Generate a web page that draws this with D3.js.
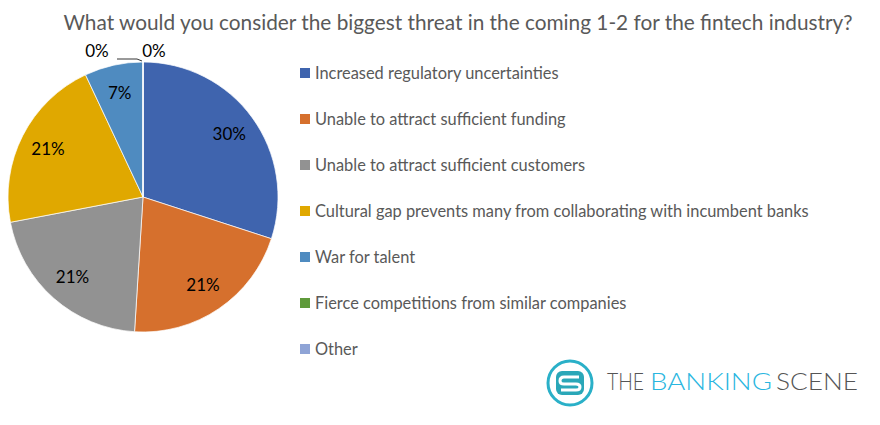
<!DOCTYPE html>
<html>
<head>
<meta charset="utf-8">
<script src="https://cdn.jsdelivr.net/npm/d3@7"></script>
<style>
  body { margin: 0; background: #fff; }
  text { font-family: Lato, "Open Sans", sans-serif; }
</style>
</head>
<body>
<div id="chart"></div>
<script>
// data
const categories = [
  "Increased regulatory uncertainties",
  "Unable to attract sufficient funding",
  "Unable to attract sufficient customers",
  "Cultural gap prevents many from collaborating with incumbent banks",
  "War for talent",
  "Fierce competitions from similar companies",
  "Other"
];
const values = [30, 21, 21, 21, 7, 0, 0];
const colors = ["#3F64AE", "#D6702D", "#929292", "#E0A800", "#4F8BC0", "#5F9A3B", "#8FA4D6"];
const title = "What would you consider the biggest threat in the coming 1-2 for the fintech industry?";

const width = 880, height = 425;
const cx = 143, cy = 197, radius = 135;

const svg = d3.select("#chart").append("svg")
  .attr("width", width).attr("height", height);

svg.append("text")
  .attr("x", 458).attr("y", 30)
  .attr("text-anchor", "middle")
  .attr("font-size", 20.8)
  .attr("fill", "#595959")
  .text(title);

const data = categories.map((c, i) => ({name: c, value: values[i], color: colors[i]}));

const pie = d3.pie().value(d => d.value).sort(null);
const arcs = pie(data);
const arc = d3.arc().innerRadius(0).outerRadius(radius);

const g = svg.append("g").attr("transform", `translate(${cx},${cy})`);

g.selectAll("path.slice")
  .data(arcs)
  .join("path")
  .attr("class", "slice")
  .attr("d", arc)
  .attr("fill", d => d.data.color)
  .attr("stroke", "#fff")
  .attr("stroke-width", 0.7);

// labels inside the slices
const labelArc = d3.arc().innerRadius(radius * 0.79).outerRadius(radius * 0.79);
g.selectAll("text.lbl")
  .data(arcs.filter(d => d.data.value > 0))
  .join("text")
  .attr("class", "lbl")
  .attr("transform", d => `translate(${labelArc.centroid(d)})`)
  .attr("text-anchor", "middle")
  .attr("dy", "0.35em")
  .attr("font-size", 17)
  .attr("fill", "#000")
  .text(d => d.data.value + "%");

// zero-value labels outside at the top, with leader line
const zeros = arcs.filter(d => d.data.value === 0);
const zeroPos = [[-46, -146], [11, -146]];
g.append("path")
  .attr("d", "M-26,-138L-6,-138L-1,-136")
  .attr("fill", "none")
  .attr("stroke", "#000")
  .attr("stroke-width", 0.8);
g.selectAll("text.zero")
  .data(zeros)
  .join("text")
  .attr("class", "zero")
  .attr("x", (d, i) => zeroPos[i][0])
  .attr("y", (d, i) => zeroPos[i][1])
  .attr("text-anchor", "middle")
  .attr("dy", "0.35em")
  .attr("font-size", 17)
  .attr("fill", "#000")
  .text(d => d.data.value + "%");

// legend
const legendY = d3.scalePoint().domain(categories).range([73, 349]);
const items = svg.append("g").selectAll("g")
  .data(data)
  .join("g")
  .attr("transform", d => `translate(300,${legendY(d.name)})`);
items.append("rect")
  .attr("x", 0).attr("y", -5)
  .attr("width", 10).attr("height", 10)
  .attr("fill", d => d.color);
items.append("text")
  .attr("x", 15).attr("dy", "0.35em")
  .attr("font-size", 16.4)
  .attr("fill", "#595959")
  .text(d => d.name);

// logo
const logo = svg.append("g").attr("transform", "translate(570,383)");
logo.append("circle").attr("r", 22).attr("fill", "none").attr("stroke", "#2AB0C8").attr("stroke-width", 3);
logo.append("rect").attr("x", -14).attr("y", -12).attr("width", 28).attr("height", 24).attr("rx", 6).attr("fill", "#2AA7B8");
logo.append("path")
  .attr("d", "M9,-6 L-6,-6 Q-10,-6 -10,-2 Q-10,1 -6,1 L6,1 Q10,1 10,4 Q10,7 6,7 L-9,7")
  .attr("fill", "none").attr("stroke", "#fff").attr("stroke-width", 3);

const logoParts = [
  {t: "THE", x: 607, w: 37, c: "#555"},
  {t: "BANKING", x: 650, w: 122, c: "#29B6E0"},
  {t: "SCENE", x: 776, w: 82, c: "#555"}
];
svg.selectAll("text.logo")
  .data(logoParts)
  .join("text")
  .attr("class", "logo")
  .attr("x", d => d.x).attr("y", 390)
  .attr("font-size", 24)
  .attr("font-weight", 300)
  .attr("textLength", d => d.w)
  .attr("lengthAdjust", "spacingAndGlyphs")
  .attr("fill", d => d.c)
  .text(d => d.t);
</script>
</body>
</html>
